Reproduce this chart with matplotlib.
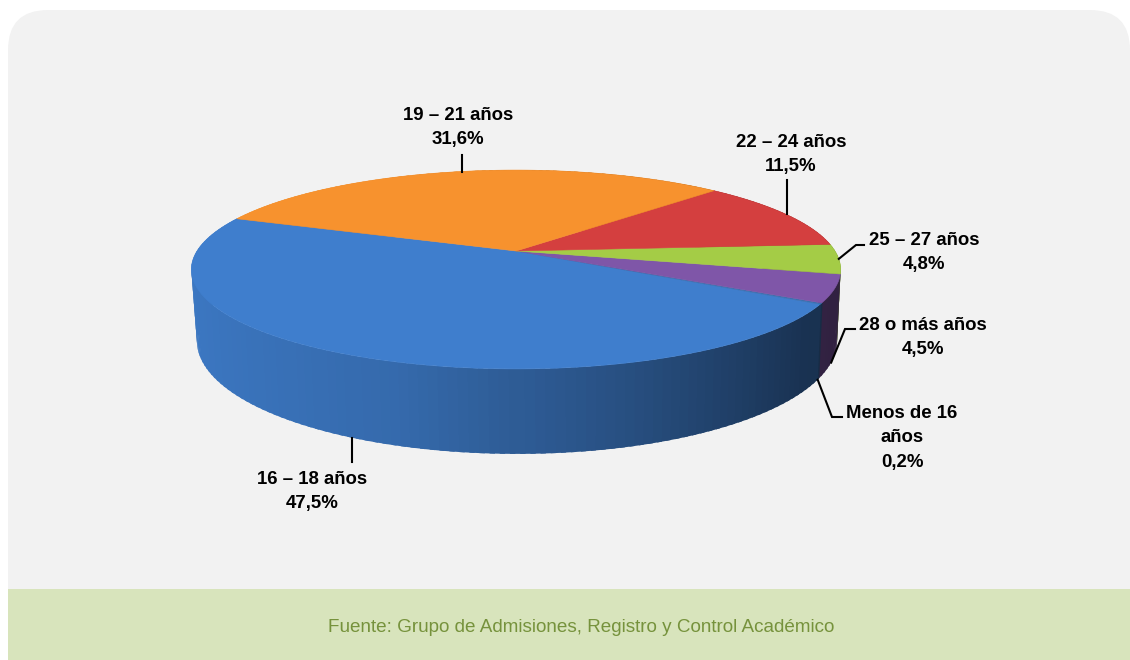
import matplotlib
matplotlib.use('Agg')
import matplotlib.pyplot as plt
from matplotlib.patches import FancyBboxPatch, Polygon, Rectangle
import numpy as np

plt.rcParams['font.family'] = ['Liberation Sans', 'DejaVu Sans']

# slices in counter-clockwise order, starting at the blue / orange edge
labels = ['16 – 18 años\n47,5%', 'Menos de 16\naños\n0,2%', '28 o más años\n4,5%',
          '25 – 27 años\n4,8%', '22 – 24 años\n11,5%', '19 – 21 años\n31,6%']
values = [47.5, 0.2, 4.5, 4.8, 11.5, 31.6]
colors = ['#3f7ecd', '#3a6fb0', '#7f56a8', '#a4cc46', '#d43f3f', '#f7922e']
start_angle = 159.0

# label centre and leader elbow (pixels), None = straight leader
label_pos = [(312, 491.5), (902, 438), (923, 337.5), (924, 252.5), (791, 154.5), (458, 127.5)]
elbows = [None, (832, 417), (845, 329), (856, 245), None, None]
leader_ends = [(352, 462), (842, 417), (855, 329), (864, 245), (787, 180), (462, 155)]
on_wall = [True, True, True, False, False, False]

# perspective of the top and bottom disc
TOP = dict(cx=516, cy=251, R=319, B=96, k=0.186)
BOT = dict(cx=517, cy=320, R=314.5, B=109, k=0.186)


def project(theta, disc, r=1.0):
    u = r * np.cos(np.radians(theta))
    v = r * np.sin(np.radians(theta))
    w = 1 + disc['k'] * v
    return disc['cx'] + disc['R'] * u / w, disc['cy'] - disc['B'] * v / w


def shade(color, theta):
    # wall gets darker from left to right
    u = np.cos(np.radians(theta))
    f = np.interp(u, [-1, -0.3, 0.3, 0.8, 1], [0.95, 0.84, 0.62, 0.40, 0.38])
    return tuple(c * f for c in matplotlib.colors.to_rgb(color))


fig = plt.figure(figsize=(11.3, 6.6), dpi=100)
ax = fig.add_axes([0, 0, 1, 1])
ax.set_xlim(0, 1130)
ax.set_ylim(660, 0)
ax.axis('off')

# background panel
ax.add_patch(FancyBboxPatch((8 + 40, 10 + 40), 1122 - 80, 700, boxstyle='round,pad=40,rounding_size=40',
                            fc='#f2f2f2', ec='none', zorder=0))
ax.add_patch(Rectangle((8, 589), 1122, 71, fc='#d8e4bc', ec='none', zorder=1))
ax.text(581.5, 627, 'Fuente: Grupo de Admisiones, Registro y Control Académico',
        ha='center', va='center', fontsize=13.55, color='#76923c', zorder=5)

edges = start_angle + np.concatenate([[0], np.cumsum(values)]) / np.sum(values) * 360

# side walls, far ones first so the front ones cover them
quads = []
for i, col in enumerate(colors):
    steps = max(1, int((edges[i + 1] - edges[i]) / 1.5))
    th = np.linspace(edges[i], edges[i + 1], steps + 1)
    for a, b in zip(th[:-1], th[1:]):
        quads.append((a, b, col))
quads.sort(key=lambda q: -np.sin(np.radians((q[0] + q[1]) / 2)))
for a, b, col in quads:
    # a little overlap so no seams show
    xa, ya = project(a - 0.4, TOP)
    xb, yb = project(b + 0.4, TOP)
    xc, yc = project(b + 0.4, BOT)
    xd, yd = project(a - 0.4, BOT)
    ax.add_patch(Polygon([(xa, ya), (xb, yb), (xc, yc), (xd, yd)], fc=shade(col, (a + b) / 2), ec='none', zorder=2))

# top face
for i, col in enumerate(colors):
    th = np.linspace(edges[i], edges[i + 1], 200)
    x, y = project(th, TOP)
    pts = [(TOP['cx'], TOP['cy'])] + list(zip(x, y))
    ax.add_patch(Polygon(pts, fc=col, ec=col, lw=0.4, zorder=3))

# labels and leaders
for i, lab in enumerate(labels):
    mid = (edges[i] + edges[i + 1]) / 2
    px, py = project(mid, BOT if on_wall[i] else TOP)
    if elbows[i] is not None:
        pts = [(px, py), elbows[i], leader_ends[i]]
    else:
        pts = [(leader_ends[i][0], py), leader_ends[i]]
    ax.plot(*zip(*pts), color='black', lw=1.5, zorder=4, solid_joinstyle='miter')
    ax.text(*label_pos[i], lab, ha='center', va='center', fontsize=13.4, fontweight='bold',
            color='black', linespacing=1.6, zorder=5)

fig.savefig('out.png', dpi=100, facecolor='white')
plt.close(fig)
